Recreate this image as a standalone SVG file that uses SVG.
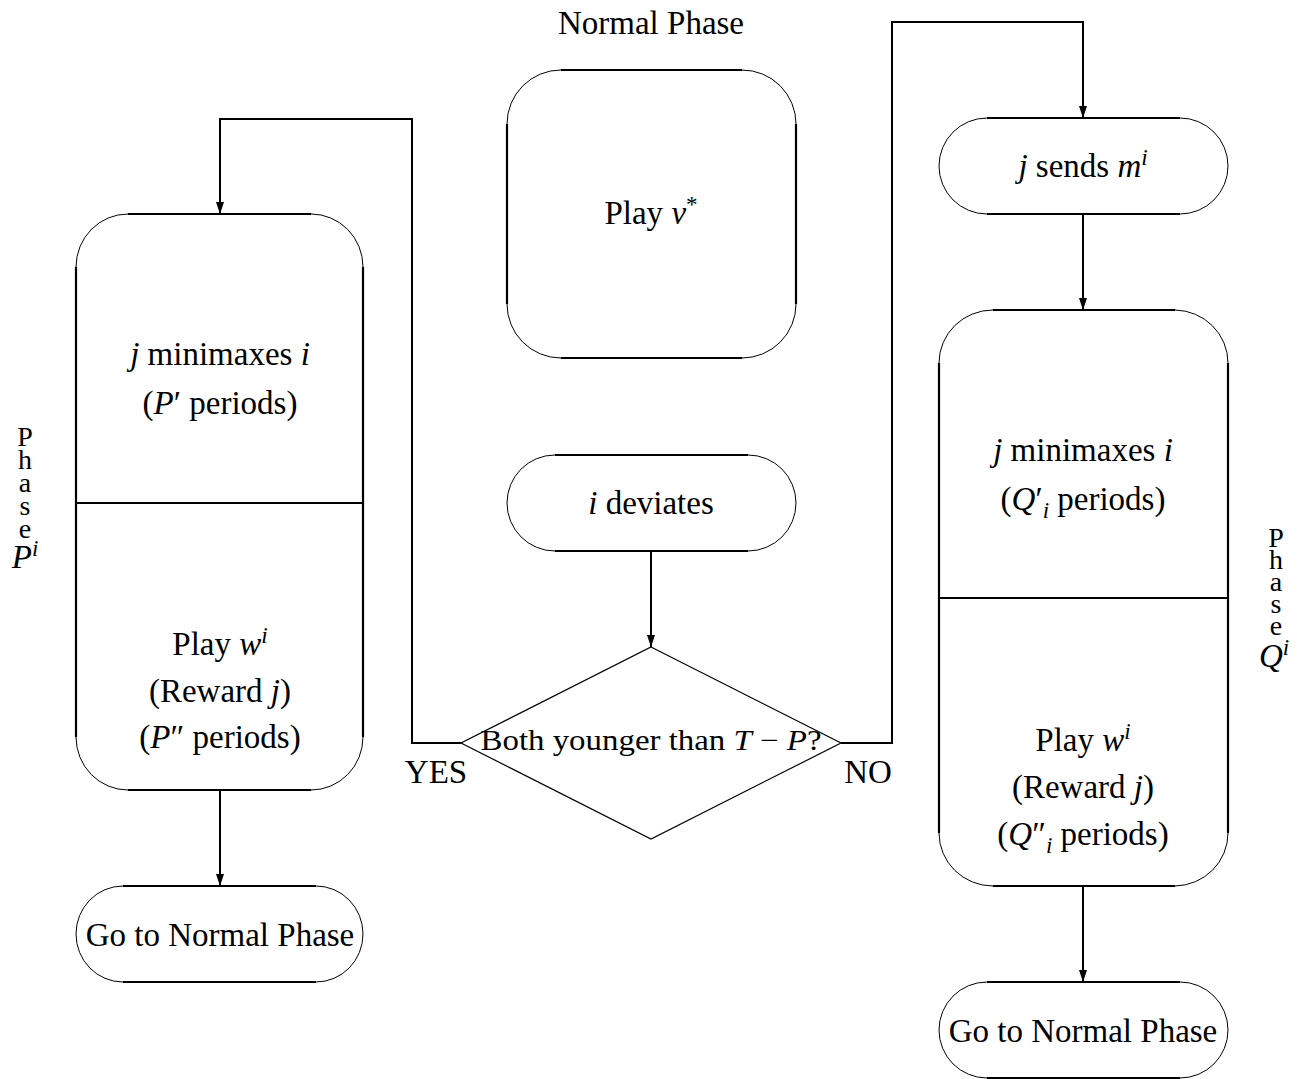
<svg xmlns="http://www.w3.org/2000/svg" width="1299" height="1079" viewBox="0 0 1299 1079">
<defs>
<marker id="arr" markerUnits="userSpaceOnUse" viewBox="0 0 12 8" markerWidth="12" markerHeight="8" refX="12" refY="4" orient="auto">
<path d="M0,0 L12,4 L0,8 z" fill="#000"/>
</marker>
<style>
text{font-family:"Liberation Serif","DejaVu Serif",serif;font-size:33px;fill:#000;text-anchor:middle}
.it{font-style:italic}
.sup{font-size:23px}
.vert{font-size:28px;writing-mode:vertical-rl;text-orientation:upright;text-anchor:start}
.arc{fill:none;stroke:#000;stroke-width:1}
.edge{fill:none;stroke:#000;stroke-width:2.2}
.conn{fill:none;stroke:#000;stroke-width:2}
.dia{fill:none;stroke:#000;stroke-width:1.2}
</style>
</defs>
<rect width="1299" height="1079" fill="#fff"/>

<text x="651" y="34">Normal Phase</text>

<g id="normal">
<path class="arc" d="M561,70 A54 54 0 0 0 507,124 M507,304 A54 54 0 0 0 561,358 M742,358 A54 54 0 0 0 796,304 M796,124 A54 54 0 0 0 742,70"/>
<path class="edge" d="M561,70 H742 M561,358 H742 M507,124 V304 M796,124 V304"/>
<text x="651" y="224">Play <tspan class="it">v</tspan><tspan class="sup" dy="-12">*</tspan></text>
</g>

<g id="deviates">
<path class="arc" d="M555,455 A48 48 0 0 0 507,503 A48 48 0 0 0 555,551 M748,551 A48 48 0 0 0 796,503 A48 48 0 0 0 748,455"/>
<path class="edge" d="M555,455 H748 M555,551 H748"/>
<text x="651" y="514"><tspan class="it">i</tspan> deviates</text>
</g>

<g id="decision">
<path class="dia" d="M651,647 L841,743 L651,839 L461,743 Z"/>
<text x="651" y="750" style="font-size:29px" textLength="341" lengthAdjust="spacingAndGlyphs">Both younger than <tspan class="it">T</tspan> − <tspan class="it">P</tspan>?</text>
</g>

<g id="phaseP">
<path class="arc" d="M128,214 A52 53 0 0 0 76,267 M76,737 A52 53 0 0 0 128,790 M311,790 A52 53 0 0 0 363,737 M363,267 A52 53 0 0 0 311,214"/>
<path class="edge" d="M128,214 H311 M128,790 H311 M76,267 V737 M363,267 V737 M76,503 H363"/>
<text x="220" y="365"><tspan class="it">j</tspan> minimaxes <tspan class="it">i</tspan></text>
<text x="220" y="414">(<tspan class="it">P</tspan>′ periods)</text>
<text x="220" y="655">Play <tspan class="it">w</tspan><tspan class="sup it" dy="-12">i</tspan></text>
<text x="220" y="702">(Reward <tspan class="it">j</tspan>)</text>
<text x="220" y="748">(<tspan class="it">P</tspan>″ periods)</text>
</g>

<g id="phaseP-label">
<text class="vert" x="25" y="421" style="letter-spacing:-8px">Phase</text>
<text x="25" y="568"><tspan class="it">P</tspan><tspan class="sup it" dy="-12">i</tspan></text>
</g>

<g id="goLeft">
<path class="arc" d="M123,886 A47 48 0 0 0 76,934 A47 48 0 0 0 123,982 M316,982 A47 48 0 0 0 363,934 A47 48 0 0 0 316,886"/>
<path class="edge" d="M123,886 H316 M123,982 H316"/>
<text x="220" y="946">Go to Normal Phase</text>
</g>

<g id="sends">
<path class="arc" d="M987,118 A48 48 0 0 0 939,166 A48 48 0 0 0 987,214 M1180,214 A48 48 0 0 0 1228,166 A48 48 0 0 0 1180,118"/>
<path class="edge" d="M987,118 H1180 M987,214 H1180"/>
<text x="1083" y="177"><tspan class="it">j</tspan> sends <tspan class="it">m</tspan><tspan class="sup it" dy="-12">i</tspan></text>
</g>

<g id="phaseQ">
<path class="arc" d="M993,310 A54 53 0 0 0 939,363 M939,833 A54 53 0 0 0 993,886 M1175,886 A54 53 0 0 0 1228,833 M1228,363 A54 53 0 0 0 1175,310"/>
<path class="edge" d="M993,310 H1175 M993,886 H1175 M939,363 V833 M1228,363 V833 M939,598 H1228"/>
<text x="1083" y="461"><tspan class="it">j</tspan> minimaxes <tspan class="it">i</tspan></text>
<text x="1083" y="510">(<tspan class="it">Q</tspan>′<tspan class="sup it" dy="8">i</tspan><tspan dy="-8"> periods)</tspan></text>
<text x="1083" y="751">Play <tspan class="it">w</tspan><tspan class="sup it" dy="-12">i</tspan></text>
<text x="1083" y="798">(Reward <tspan class="it">j</tspan>)</text>
<text x="1083" y="845">(<tspan class="it">Q</tspan>″<tspan class="sup it" dy="8">i</tspan><tspan dy="-8"> periods)</tspan></text>
</g>

<g id="phaseQ-label">
<text class="vert" x="1276" y="522" style="letter-spacing:-9px">Phase</text>
<text x="1274" y="667"><tspan class="it">Q</tspan><tspan class="sup it" dy="-12">i</tspan></text>
</g>

<g id="goRight">
<path class="arc" d="M987,982 A48 48 0 0 0 939,1030 A48 48 0 0 0 987,1078 M1180,1078 A48 48 0 0 0 1228,1030 A48 48 0 0 0 1180,982"/>
<path class="edge" d="M987,982 H1180 M987,1078 H1180"/>
<text x="1083" y="1042">Go to Normal Phase</text>
</g>

<g id="connectors">
<path class="conn" d="M651,551 V647" marker-end="url(#arr)"/>
<path class="conn" d="M461,743 H412 V119 H220 V214" marker-end="url(#arr)"/>
<path class="conn" d="M841,743 H892 V22 H1083 V118" marker-end="url(#arr)"/>
<path class="conn" d="M220,790 V886" marker-end="url(#arr)"/>
<path class="conn" d="M1083,214 V310" marker-end="url(#arr)"/>
<path class="conn" d="M1083,886 V982" marker-end="url(#arr)"/>
<text x="436" y="783">YES</text>
<text x="868" y="783">NO</text>
</g>
</svg>
